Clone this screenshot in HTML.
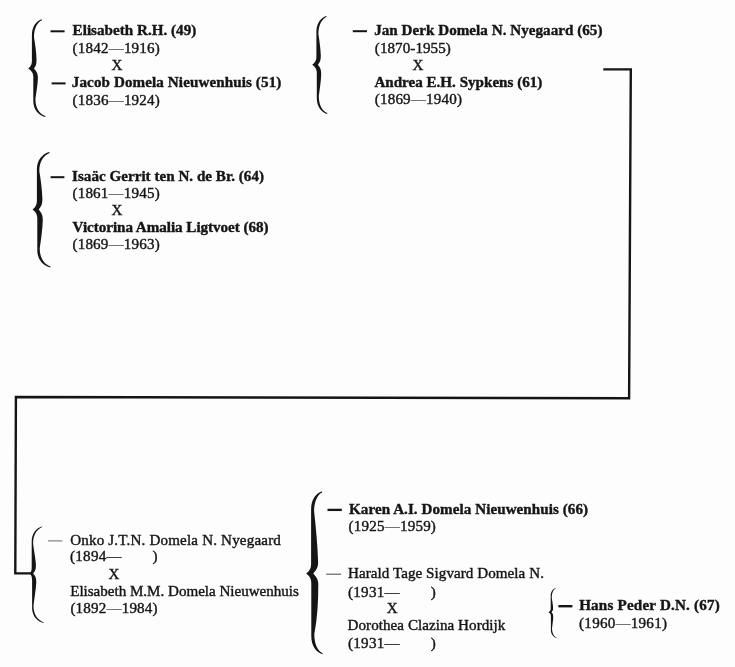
<!DOCTYPE html>
<html><head><meta charset="utf-8"><title>Genealogy</title>
<style>
html,body{margin:0;padding:0;}
body{width:735px;height:667px;background:#fdfdfd;position:relative;overflow:hidden;font-family:"Liberation Serif",serif;font-size:15.1px;color:#151515;}
#txt{position:absolute;left:0;top:0;width:735px;height:667px;will-change:transform;transform:translateZ(0);}
.t{position:absolute;white-space:nowrap;line-height:normal;-webkit-text-stroke:0.4px #151515;}
.d{-webkit-text-stroke:0;color:#444;}
.d2{-webkit-text-stroke:0.15px #222;color:#222;}
</style></head><body>
<svg width="735" height="667" viewBox="0 0 735 667" style="position:absolute;left:0;top:0">
<g fill="#151515"><path d="M41.70,19.30 C36.41,20.90 31.90,26.50 31.90,35.30 L31.90,60.60 C31.90,65.00 30.30,67.00 28.10,68.60 C30.30,70.20 33.30,72.20 33.30,76.60 L33.30,100.90 C33.30,109.70 38.77,115.30 45.20,116.90 L45.47,116.00 C40.10,114.18 35.40,108.58 35.40,98.90 C36.40,92.04 37.65,84.96 37.90,78.10 C37.90,72.60 35.98,71.20 33.98,68.60 C35.98,66.00 36.50,64.60 36.50,59.10 C36.25,51.91 35.25,44.49 34.00,37.30 C34.00,27.62 37.70,22.02 41.97,20.20 Z"/>
<path d="M326.30,16.00 C320.95,17.60 316.40,23.20 316.40,32.00 L316.40,56.80 C316.40,61.20 314.30,63.20 312.10,64.80 C314.30,66.40 316.80,68.40 316.80,72.80 L316.80,98.00 C316.80,106.80 321.54,112.40 327.10,114.00 L327.37,113.10 C322.78,111.28 318.80,105.68 318.80,96.00 C319.76,88.84 320.96,81.46 321.20,74.30 C321.20,68.80 319.92,67.40 317.92,64.80 C319.92,62.20 320.80,60.80 320.80,55.30 C320.56,48.27 319.48,41.03 318.40,34.00 C318.40,24.32 322.19,18.72 326.57,16.90 Z"/>
<path d="M49.40,152.10 C42.65,153.80 36.90,159.75 36.90,169.10 L36.90,200.40 C36.90,205.35 34.80,207.80 32.60,209.40 C34.80,211.00 37.30,213.45 37.30,218.40 L37.30,250.40 C37.30,259.75 43.28,265.70 50.30,267.40 L50.57,266.50 C44.79,264.51 39.70,258.56 39.70,248.40 C41.09,238.99 42.49,229.31 42.80,219.90 C42.80,213.90 40.75,212.00 38.75,209.40 C40.75,206.80 42.40,204.90 42.40,198.90 C42.09,189.73 40.85,180.27 39.30,171.10 C39.30,160.94 44.15,154.99 49.67,153.00 Z"/>
<path d="M42.00,526.50 C36.44,528.00 31.70,533.25 31.70,541.50 L31.70,566.00 C31.70,570.12 31.50,571.90 29.30,573.50 C31.50,575.10 32.10,576.88 32.10,581.00 L32.10,608.00 C32.10,616.25 37.44,621.50 43.70,623.00 L43.85,622.50 C38.40,620.45 33.50,615.20 33.50,606.00 C34.20,598.25 35.88,590.25 36.30,582.50 C36.30,577.25 35.16,576.10 33.16,573.50 C35.16,570.90 35.90,569.75 35.90,564.50 C35.48,557.57 33.80,550.43 33.10,543.50 C33.10,534.30 37.37,529.05 42.15,527.00 Z"/>
<path d="M322.00,491.30 C316.11,493.10 311.10,499.40 311.10,509.30 L311.10,564.10 C311.10,569.33 308.40,572.00 306.20,573.60 C308.40,575.20 311.30,577.88 311.30,583.10 L311.30,636.30 C311.30,646.20 316.45,652.50 322.50,654.30 L322.77,653.40 C318.24,651.24 314.30,644.94 314.30,634.30 C317.50,617.90 318.30,601.00 318.30,584.60 C318.30,578.35 315.30,576.20 313.30,573.60 C315.30,571.00 318.10,568.85 318.10,562.60 C317.70,545.67 315.90,528.23 314.10,511.30 C314.10,500.66 317.89,494.36 322.27,492.20 Z"/>
<path d="M555.60,588.00 C552.95,588.80 550.70,591.60 550.70,596.00 L550.70,607.80 C550.70,610.27 550.70,610.70 548.50,612.30 C550.70,613.90 550.90,614.32 550.90,616.80 L550.90,630.30 C550.90,634.70 553.84,637.50 557.30,638.30 L557.42,637.90 C554.54,636.94 552.00,634.14 552.00,628.30 C552.30,625.00 553.02,621.60 553.20,618.30 C553.20,614.55 553.49,614.90 551.49,612.30 C553.49,609.70 553.00,610.05 553.00,606.30 C552.82,603.56 552.10,600.74 551.80,598.00 C551.80,592.16 553.62,589.36 555.72,588.40 Z"/></g>
<g fill="none" stroke="#151515" stroke-width="2.4" stroke-linejoin="miter" stroke-linecap="butt">
<path d="M603.3,69.4 L630.8,69.4 L629.1,398.3 L15.9,397.0 L15.3,573.4 L31,573.4"/>
</g>
<rect x="50.5" y="30.30" width="14.1" height="2.0" fill="#151515"/>
<rect x="51.6" y="82.40" width="14.0" height="2.0" fill="#151515"/>
<rect x="352.8" y="30.20" width="14.2" height="2.0" fill="#151515"/>
<rect x="50.6" y="176.20" width="13.8" height="2.0" fill="#151515"/>
<rect x="48.0" y="540.35" width="14.4" height="1.1" fill="#777"/>
<rect x="327.5" y="508.75" width="14.3" height="2.3" fill="#151515"/>
<rect x="326.2" y="573.65" width="14.8" height="1.1" fill="#555"/>
<rect x="558.4" y="605.00" width="14.0" height="2.4" fill="#151515"/>
</svg>
<div id="txt">
<span class="t" style="left:72.6px;top:22px;font-weight:bold;letter-spacing:0.021px;">Elisabeth R.H. (49)</span>
<span class="t" style="left:72.6px;top:40px;letter-spacing:0.164px;">(1842<span class="d">—</span>1916)</span>
<span class="t" style="left:111.6px;top:57px;">X</span>
<span class="t" style="left:71.8px;top:74px;font-weight:bold;letter-spacing:0.101px;">Jacob Domela Nieuwenhuis (51)</span>
<span class="t" style="left:72.6px;top:92px;letter-spacing:0.164px;">(1836<span class="d">—</span>1924)</span>
<span class="t" style="left:374.2px;top:22px;font-weight:bold;letter-spacing:0.035px;">Jan Derk Domela N. Nyegaard (65)</span>
<span class="t" style="left:374.8px;top:40px;letter-spacing:0.061px;">(1870-1955)</span>
<span class="t" style="left:412.6px;top:57px;">X</span>
<span class="t" style="left:374.4px;top:74px;font-weight:bold;">Andrea E.H. Sypkens (61)</span>
<span class="t" style="left:374.8px;top:91px;letter-spacing:0.164px;">(1869<span class="d">—</span>1940)</span>
<span class="t" style="left:72.1px;top:168px;font-weight:bold;letter-spacing:0.016px;">Isaäc Gerrit ten N. de Br. (64)</span>
<span class="t" style="left:72.5px;top:185px;letter-spacing:0.164px;">(1861<span class="d">—</span>1945)</span>
<span class="t" style="left:111.6px;top:202px;">X</span>
<span class="t" style="left:72.6px;top:219px;font-weight:bold;letter-spacing:-0.033px;">Victorina Amalia Ligtvoet (68)</span>
<span class="t" style="left:72.5px;top:236px;letter-spacing:0.164px;">(1869<span class="d">—</span>1963)</span>
<span class="t" style="left:70.2px;top:532px;letter-spacing:0.164px;">Onko J.T.N. Domela N. Nyegaard</span>
<span class="t" style="left:70.0px;top:548px;letter-spacing:0.254px;">(1894<span class="d2">—</span></span>
<span class="t" style="left:108.6px;top:566px;">X</span>
<span class="t" style="left:70.2px;top:583px;letter-spacing:-0.019px;">Elisabeth M.M. Domela Nieuwenhuis</span>
<span class="t" style="left:70.4px;top:600px;letter-spacing:0.164px;">(1892<span class="d">—</span>1984)</span>
<span class="t" style="left:349.0px;top:501px;font-weight:bold;letter-spacing:0.063px;">Karen A.I. Domela Nieuwenhuis (66)</span>
<span class="t" style="left:348.6px;top:518px;letter-spacing:0.174px;">(1925<span class="d">—</span>1959)</span>
<span class="t" style="left:348.0px;top:565px;letter-spacing:0.054px;">Harald Tage Sigvard Domela N.</span>
<span class="t" style="left:348.0px;top:584px;letter-spacing:0.254px;">(1931<span class="d2">—</span></span>
<span class="t" style="left:386.7px;top:600px;">X</span>
<span class="t" style="left:347.6px;top:617px;letter-spacing:0.042px;">Dorothea Clazina Hordijk</span>
<span class="t" style="left:348.0px;top:635px;letter-spacing:0.254px;">(1931<span class="d2">—</span></span>
<span class="t" style="left:579.2px;top:597px;font-weight:bold;letter-spacing:0.196px;">Hans Peder D.N. (67)</span>
<span class="t" style="left:579.1px;top:615px;letter-spacing:0.234px;">(1960<span class="d">—</span>1961)</span>
<span class="t" style="left:152.6px;top:548px;">)</span>
<span class="t" style="left:430.8px;top:584px;">)</span>
<span class="t" style="left:430.8px;top:635px;">)</span>
</div>
</body></html>
